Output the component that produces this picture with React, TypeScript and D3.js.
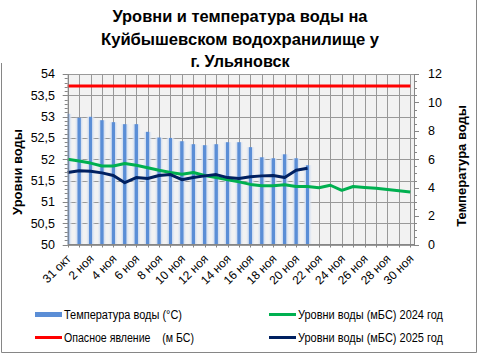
import React from "react";
import * as d3 from "d3";

const dateLabels = [
  "31 окт", "1 ноя", "2 ноя", "3 ноя", "4 ноя", "5 ноя", "6 ноя", "7 ноя", "8 ноя", "9 ноя",
  "10 ноя", "11 ноя", "12 ноя", "13 ноя", "14 ноя", "15 ноя", "16 ноя", "17 ноя", "18 ноя", "19 ноя",
  "20 ноя", "21 ноя", "22 ноя", "23 ноя", "24 ноя", "25 ноя", "26 ноя", "27 ноя", "28 ноя", "29 ноя", "30 ноя",
];

const temperature = [
  9.2, 8.92, 8.99, 8.75, 8.61, 8.47, 8.47, 7.93, 7.53, 7.5, 7.27, 7.06, 6.99, 7.06, 7.2, 7.2,
  6.85, 6.14, 6.07, 6.35, 6.07, 5.58,
];

const level2024 = [
  52.0, 51.96, 51.91, 51.84, 51.84, 51.9, 51.86, 51.8, 51.74, 51.69, 51.65, 51.69, 51.62, 51.57,
  51.52, 51.47, 51.41, 51.38, 51.38, 51.4, 51.36, 51.36, 51.33, 51.39, 51.27, 51.36, 51.34, 51.32,
  51.29, 51.26, 51.23,
];

const level2025 = [
  51.69, 51.73, 51.72, 51.68, 51.62, 51.45, 51.57, 51.55, 51.62, 51.64, 51.52, 51.57, 51.61, 51.64,
  51.57, 51.55, 51.59, 51.61, 51.62, 51.57, 51.74, 51.79,
];

const dangerLevel = 53.72;

const leftTicks = [50, 50.5, 51, 51.5, 52, 52.5, 53, 53.5, 54];
const rightTicks = [0, 2, 4, 6, 8, 10, 12];

const titleLines = ["Уровни  и температура  воды на", "Куйбышевском водохранилище у", "г. Ульяновск"];

const FONT = "'Liberation Sans', Arial, sans-serif";

export default function App() {
  const W = 481, H = 355;
  const L = 67.7, R = 414, T = 74, B = 244.5;

  const x = d3.scalePoint<number>().domain(d3.range(dateLabels.length)).range([67.7, 410.3]);
  const yL = d3.scaleLinear().domain([50, 54]).range([B, T]);
  const yR = d3.scaleLinear().domain([0, 12]).range([B, T]);

  const line = d3
    .line<number>()
    .x((_, i) => x(i) as number)
    .y((d) => yL(d));

  const minorLeft = d3.range(50, 54.0001, 0.1);
  const minorRight = d3.range(0, 12.0001, 0.5);
  const fmt = (v: number) => (Number.isInteger(v) ? String(v) : String(v).replace(".", ","));
  const barW = 9;

  return (
    <svg width={W} height={H} style={{ position: "absolute", left: 0, top: 0, fontFamily: FONT }}>
      <defs>
        <linearGradient id="barGrad" x1="0" x2="1" y1="0" y2="0">
          <stop offset="0" stopColor="#e3eaf5" stopOpacity="0" />
          <stop offset="0.28" stopColor="#cfdcf0" stopOpacity="1" />
          <stop offset="0.36" stopColor="#5b8ed6" />
          <stop offset="0.64" stopColor="#5b8ed6" />
          <stop offset="0.72" stopColor="#cfdcf0" stopOpacity="1" />
          <stop offset="1" stopColor="#e3eaf5" stopOpacity="0" />
        </linearGradient>
        <clipPath id="plotClip">
          <rect x={L} y={T - 2} width={R - L} height={B - T + 2} />
        </clipPath>
      </defs>
      <rect x={0} y={0} width={W} height={H} fill="#ffffff" />
      {/* chart border */}
      <line x1={476.5} y1={0} x2={476.5} y2={352.5} stroke="#868686" />
      <line x1={1.5} y1={352.5} x2={476.5} y2={352.5} stroke="#868686" />
      <line x1={1.5} y1={63} x2={1.5} y2={352.5} stroke="#868686" />

      {/* title */}
      {titleLines.map((t, i) => (
        <text
          key={i}
          x={240}
          y={22 + i * 22.5}
          textAnchor="middle"
          fontSize={16}
          fontWeight="bold"
          textLength={[255, 278, 99][i]}
          lengthAdjust="spacingAndGlyphs"
          fill="#000"
        >
          {t}
        </text>
      ))}

      {/* plot background */}
      <rect x={L} y={T} width={R - L} height={B - T} fill="#f2f2f2" />
      {/* horizontal grid */}
      {leftTicks.map((v) => (
        <line key={"hg" + v} x1={L} x2={R} y1={Math.round(yL(v)) + 0.5} y2={Math.round(yL(v)) + 0.5} stroke="#999999" />
      ))}
      {/* vertical grid */}
      {dateLabels.map((_, i) => (
        <line key={"vg" + i} x1={Math.round(x(i) as number) + 0.5} x2={Math.round(x(i) as number) + 0.5} y1={T} y2={B} stroke="#999999" />
      ))}

      {/* bars */}
      <g clipPath="url(#plotClip)">
        {temperature.map((t, i) => (
          <rect
            key={"b" + i}
            x={(x(i) as number) - barW / 2}
            y={yR(t)}
            width={barW}
            height={B - yR(t)}
            fill="url(#barGrad)"
          />
        ))}
      </g>

      {/* danger line */}
      <line x1={x(0) as number} x2={x(dateLabels.length - 1) as number} y1={yL(dangerLevel)} y2={yL(dangerLevel)} stroke="#ff0000" strokeWidth={3} />
      {/* 2024 */}
      <path d={line(level2024) || ""} fill="none" stroke="#00b050" strokeWidth={3} strokeLinejoin="round" />
      {/* 2025 */}
      <path d={line(level2025) || ""} fill="none" stroke="#002060" strokeWidth={3} strokeLinejoin="round" />

      {/* axes lines */}
      <line x1={L + 0.5} x2={L + 0.5} y1={T} y2={B} stroke="#868686" />
      <line x1={R + 0.5} x2={R + 0.5} y1={T} y2={B} stroke="#868686" />
      <line x1={L} x2={R + 1} y1={B} y2={B} stroke="#868686" />

      {/* left ticks */}
      {minorLeft.map((v, i) => (
        <line key={"lm" + i} x1={L - 3} x2={L} y1={Math.round(yL(v)) + 0.5} y2={Math.round(yL(v)) + 0.5} stroke="#868686" />
      ))}
      {leftTicks.map((v) => (
        <g key={"lt" + v}>
          <line x1={L - 5} x2={L} y1={Math.round(yL(v)) + 0.5} y2={Math.round(yL(v)) + 0.5} stroke="#868686" />
          <text x={55} y={yL(v)} dy="0.35em" textAnchor="end" fontSize={12.5} fill="#000">
            {fmt(v)}
          </text>
        </g>
      ))}

      {/* right ticks */}
      {minorRight.map((v, i) => (
        <line key={"rm" + i} x1={R} x2={R + 3} y1={Math.round(yR(v)) + 0.5} y2={Math.round(yR(v)) + 0.5} stroke="#868686" />
      ))}
      {rightTicks.map((v) => (
        <g key={"rt" + v}>
          <line x1={R} x2={R + 5} y1={Math.round(yR(v)) + 0.5} y2={Math.round(yR(v)) + 0.5} stroke="#868686" />
          <text x={428} y={yR(v)} dy="0.35em" textAnchor="start" fontSize={12.5} fill="#000">
            {v}
          </text>
        </g>
      ))}

      {/* bottom ticks and labels */}
      {dateLabels.map((d, i) => (
        <g key={"xt" + i}>
          <line x1={Math.round(x(i) as number) + 0.5} x2={Math.round(x(i) as number) + 0.5} y1={B} y2={B + 3} stroke="#868686" />
          {i % 2 === 0 && (
            <text
              transform={`translate(${(x(i) as number) + 4},${B + 15}) rotate(-45)`}
              textAnchor="end"
              fontSize={12}
              fill="#000"
            >
              {d}
            </text>
          )}
        </g>
      ))}

      {/* axis titles */}
      <text transform={`translate(22,172) rotate(-90)`} textAnchor="middle" fontSize={13} fontWeight="bold" fill="#000">
        Уровни воды
      </text>
      <text transform={`translate(466,166) rotate(-90)`} textAnchor="middle" fontSize={13} fontWeight="bold" fill="#000">
        Температура воды
      </text>

      {/* legend */}
      <rect x={35} y={312} width={27} height={5} fill="#5b8ed6" />
      <text x={64} y={318.5} fontSize={12} fill="#000" textLength={118} lengthAdjust="spacingAndGlyphs">
        Температура воды (°С)
      </text>
      <line x1={35} x2={62} y1={337.5} y2={337.5} stroke="#ff0000" strokeWidth={3} />
      <text x={64} y={341.5} fontSize={12} fill="#000" textLength={130} lengthAdjust="spacingAndGlyphs" xmlSpace="preserve">
        {"Опасное явление    (м БС)"}
      </text>
      <line x1={269} x2={296} y1={314.5} y2={314.5} stroke="#00b050" strokeWidth={3} />
      <text x={298} y={318.5} fontSize={12} fill="#000" textLength={145} lengthAdjust="spacingAndGlyphs">
        Уровни воды (мБС) 2024 год
      </text>
      <line x1={269} x2={296} y1={337.5} y2={337.5} stroke="#002060" strokeWidth={3} />
      <text x={298} y={341.5} fontSize={12} fill="#000" textLength={145} lengthAdjust="spacingAndGlyphs">
        Уровни воды (мБС) 2025 год
      </text>
    </svg>
  );
}
